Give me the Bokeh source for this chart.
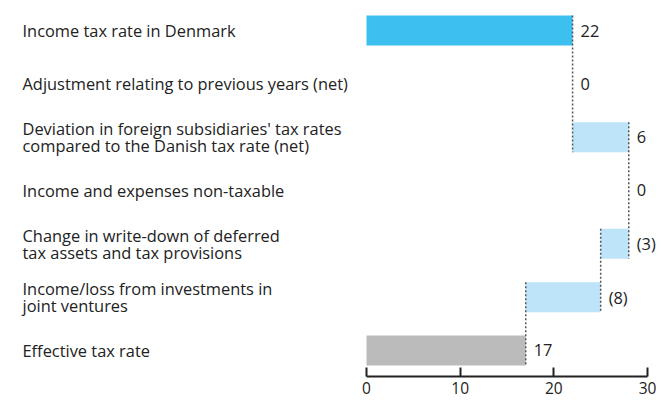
from bokeh.plotting import figure
from bokeh.models import Range1d, LinearAxis, FixedTicker, ColumnDataSource
from bokeh.core.properties import value
from bokeh.embed import file_html
from bokeh.resources import INLINE

# Tax rate reconciliation (percentage points)
categories = [
    "Income tax rate in Denmark",
    "Adjustment relating to previous years (net)",
    "Deviation in foreign subsidiaries' tax rates\ncompared to the Danish tax rate (net)",
    "Income and expenses non-taxable",
    "Change in write-down of deferred\ntax assets and tax provisions",
    "Income/loss from investments in\njoint ventures",
    "Effective tax rate",
]
values = [22, 0, 6, 0, -3, -8, 17]
value_labels = ["22", "0", "6", "0", "(3)", "(8)", "17"]
kinds = ["total", "delta", "delta", "delta", "delta", "delta", "total"]
x_ticks = [0, 10, 20, 30]

FONT = "Open Sans"
FONT_SIZE = "16.4px"
TEXT = "#222222"
COLORS = {"total_first": "#3DC0EF", "delta": "#BDE4F8", "total_last": "#BBBBBB"}

# Layout constants (pixels)
W, H = 661, 401
BOTTOM_PX = 25
PX_PER_UNIT = 281 / 30.0
ZERO_PX = 366
ROW_PX = 53.33
FIRST_ROW_PX = 30
FRAME_H = H - BOTTOM_PX
BAR_PX = 30

x_start = -ZERO_PX / PX_PER_UNIT
x_end = x_start + W / PX_PER_UNIT
y_top = FIRST_ROW_PX / ROW_PX
y_bottom = -(FRAME_H - FIRST_ROW_PX) / ROW_PX
bar_h = BAR_PX / ROW_PX

# Waterfall geometry
lefts, rights, levels, colors = [], [], [], []
level = 0
for i, (v, k) in enumerate(zip(values, kinds)):
    if k == "total":
        l, r = 0, v
        level = v
        colors.append(COLORS["total_first"] if i == 0 else COLORS["total_last"])
    else:
        l, r = level, level + v
        level = level + v
        colors.append(COLORS["delta"])
    lefts.append(l)
    rights.append(r)
    levels.append(level)

ys = [-i for i in range(len(categories))]

p = figure(width=W, height=H, output_backend="svg", toolbar_location=None,
           x_range=Range1d(x_start, x_end), y_range=Range1d(y_bottom, y_top),
           min_border_left=0, min_border_right=0, min_border_top=0,
           min_border_bottom=BOTTOM_PX,
           x_axis_location=None, y_axis_location=None)
p.outline_line_color = None
p.grid.visible = False
p.background_fill_color = "white"
p.border_fill_color = "white"

bars = ColumnDataSource(dict(
    y=[y for y, v in zip(ys, values) if v != 0],
    left=[min(l, r) for l, r, v in zip(lefts, rights, values) if v != 0],
    right=[max(l, r) for l, r, v in zip(lefts, rights, values) if v != 0],
    color=[c for c, v in zip(colors, values) if v != 0],
))
p.hbar(y="y", left="left", right="right", height=bar_h, color="color",
       line_color=None, source=bars)

# Dotted connectors between consecutive non-zero bars
nz = [i for i, v in enumerate(values) if v != 0]
cx, cy0, cy1 = [], [], []
for a, b in zip(nz[:-1], nz[1:]):
    cx.append(levels[a])
    cy0.append(ys[a] + bar_h / 2)
    cy1.append(ys[b] - bar_h / 2)
p.segment(x0=cx, y0=cy0, x1=cx, y1=cy1, line_color="#555555",
          line_width=1.5, line_dash="2 2")

# Category labels
label_x = x_start + 22 / PX_PER_UNIT
p.text(x=[label_x] * len(categories), y=ys, text=categories,
       text_font=value(FONT), text_font_size=FONT_SIZE, text_color=TEXT,
       text_align="left", text_baseline="middle", text_line_height=0.76)

# Value labels
vx = [max(l, r) + 8 / PX_PER_UNIT for l, r in zip(lefts, rights)]
p.text(x=vx, y=ys, text=value_labels, text_font=value(FONT),
       text_font_size=FONT_SIZE, text_color=TEXT, text_align="left",
       text_baseline="middle")

axis = LinearAxis(ticker=FixedTicker(ticks=x_ticks), bounds=(0, 30))
axis.major_tick_in = 9
axis.major_tick_out = 0
axis.minor_tick_in = 0
axis.minor_tick_out = 0
axis.axis_line_width = 2
axis.axis_line_color = TEXT
axis.major_tick_line_width = 2
axis.major_tick_line_color = TEXT
axis.major_label_text_font = FONT
axis.major_label_text_font_size = "15.5px"
axis.major_label_text_color = TEXT
axis.major_label_standoff = 5
p.add_layout(axis, "below")

open("out.html", "w").write(file_html(p, INLINE))
